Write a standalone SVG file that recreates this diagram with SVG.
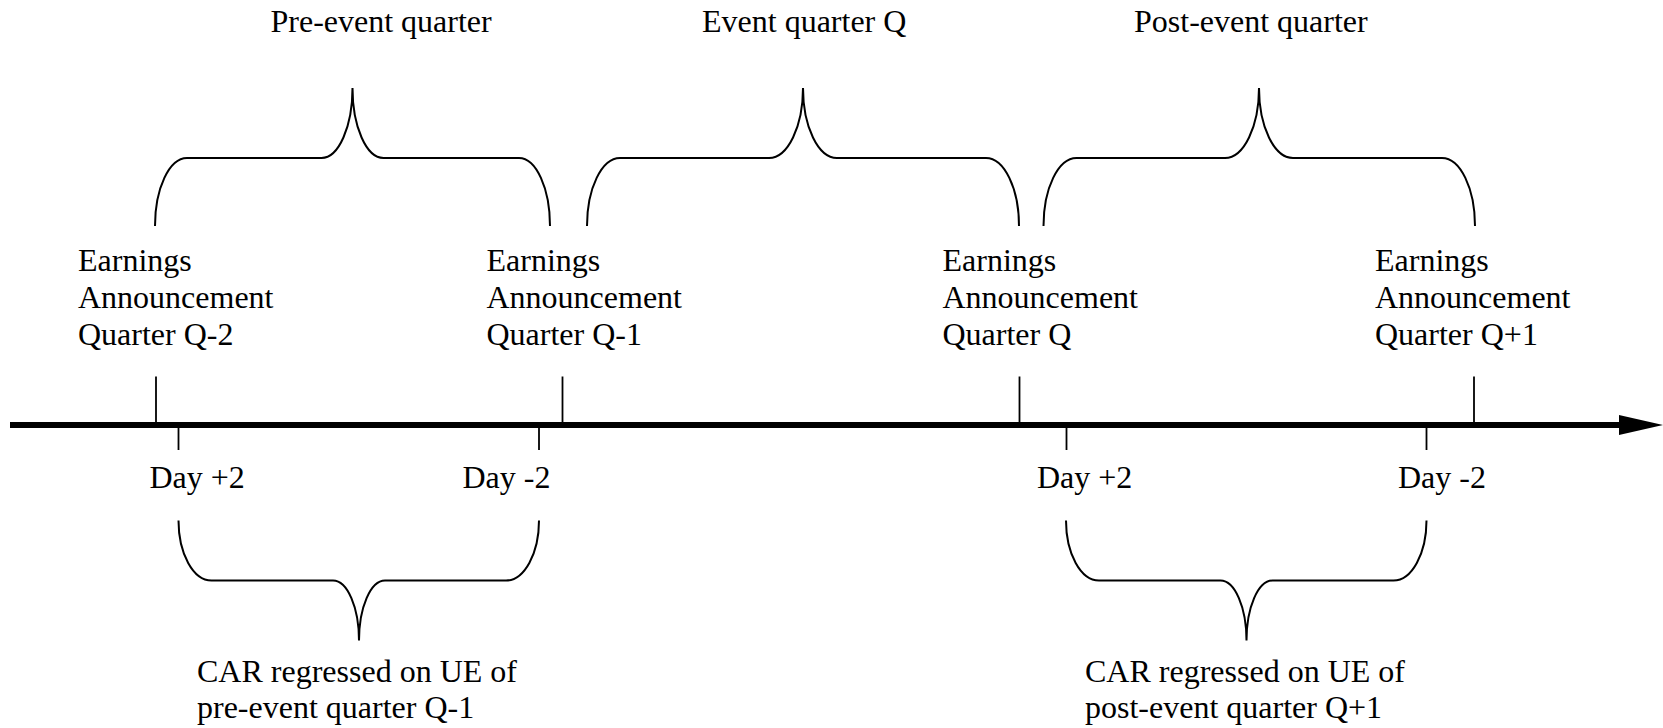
<svg xmlns="http://www.w3.org/2000/svg" width="1663" height="728" viewBox="0 0 1663 728">
<style>
text { font-family: "Liberation Serif", "Times New Roman", serif; font-size: 32px; fill: #000; }
.brace { fill: none; stroke: #000; stroke-width: 2; }
.tick { stroke: #000; stroke-width: 1.8; }
.axis { stroke: #000; stroke-width: 6; }
</style>
<rect width="1663" height="728" fill="#fff"/>
<g id="connectors">
  <line class="axis" x1="10" y1="425" x2="1624" y2="425"/>
  <polygon points="1619,415 1663,425 1619,435" fill="#000"/>
  <line class="tick" x1="156" y1="376.5" x2="156" y2="425"/>
  <line class="tick" x1="562.5" y1="376.5" x2="562.5" y2="425"/>
  <line class="tick" x1="1019.5" y1="376.5" x2="1019.5" y2="425"/>
  <line class="tick" x1="1474" y1="376.5" x2="1474" y2="425"/>
  <line class="tick" x1="178.5" y1="425" x2="178.5" y2="450"/>
  <line class="tick" x1="539" y1="425" x2="539" y2="450"/>
  <line class="tick" x1="1066.5" y1="425" x2="1066.5" y2="450"/>
  <line class="tick" x1="1426.5" y1="425" x2="1426.5" y2="450"/>
</g>
<g id="brace-pre">
  <path class="brace" d="M155,226 A32,68 0 0 1 187,158 L321.5,158 A31,70 0 0 0 352.5,88 A31,70 0 0 0 383.5,158 L519,158 A31,68 0 0 1 550,226"/>
  <text x="270.5" y="32">Pre-event quarter</text>
</g>
<g id="brace-event">
  <path class="brace" d="M587,226 A33,68 0 0 1 620,158 L769,158 A34,70 0 0 0 803,88 A34,70 0 0 0 837,158 L986,158 A33,68 0 0 1 1019,226"/>
  <text x="702" y="32">Event quarter Q</text>
</g>
<g id="brace-post">
  <path class="brace" d="M1043.5,226 A33,68 0 0 1 1076.5,158 L1225,158 A34,70 0 0 0 1259,88 A34,70 0 0 0 1293,158 L1442,158 A33,68 0 0 1 1475,226"/>
  <text x="1134" y="32">Post-event quarter</text>
</g>
<g id="ea-q-2">
  <text x="78" y="271">Earnings</text>
  <text x="78" y="308">Announcement</text>
  <text x="78" y="345">Quarter Q-2</text>
</g>
<g id="ea-q-1">
  <text x="486.5" y="271">Earnings</text>
  <text x="486.5" y="308">Announcement</text>
  <text x="486.5" y="345">Quarter Q-1</text>
</g>
<g id="ea-q">
  <text x="942.5" y="271">Earnings</text>
  <text x="942.5" y="308">Announcement</text>
  <text x="942.5" y="345">Quarter Q</text>
</g>
<g id="ea-q1">
  <text x="1375" y="271">Earnings</text>
  <text x="1375" y="308">Announcement</text>
  <text x="1375" y="345">Quarter Q+1</text>
</g>
<g id="day-labels">
  <text x="149.5" y="488">Day +2</text>
  <text x="462.5" y="488">Day -2</text>
  <text x="1037" y="488">Day +2</text>
  <text x="1398" y="488">Day -2</text>
</g>
<g id="car-pre">
  <path class="brace" d="M178.5,520.5 A33,60 0 0 0 211.5,580.5 L333,580.5 A26,60 0 0 1 359,640.5 A26,60 0 0 1 385,580.5 L506,580.5 A33,60 0 0 0 539,520.5"/>
  <text x="197" y="682">CAR regressed on UE of</text>
  <text x="197" y="718">pre-event quarter Q-1</text>
</g>
<g id="car-post">
  <path class="brace" d="M1066,520.5 A33,60 0 0 0 1099,580.5 L1220.5,580.5 A26,60 0 0 1 1246.5,640.5 A26,60 0 0 1 1272.5,580.5 L1393.5,580.5 A33,60 0 0 0 1426.5,520.5"/>
  <text x="1085" y="682">CAR regressed on UE of</text>
  <text x="1085" y="718">post-event quarter Q+1</text>
</g>
</svg>
